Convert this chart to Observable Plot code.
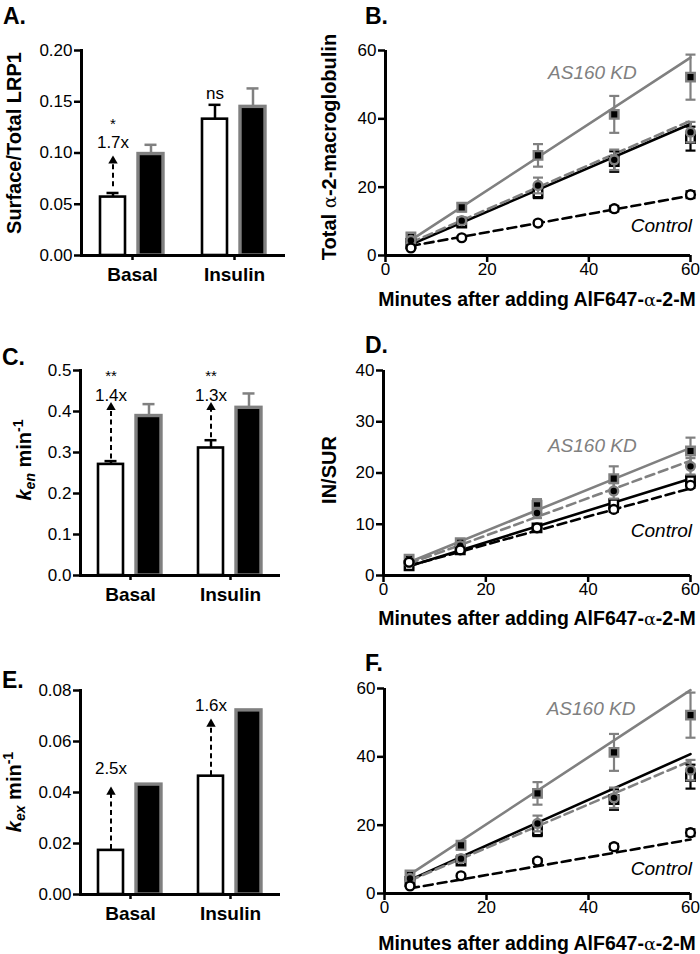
<!DOCTYPE html>
<html><head><meta charset="utf-8">
<script src="https://cdn.jsdelivr.net/npm/d3@7"></script>
<script src="https://cdn.jsdelivr.net/npm/@observablehq/plot@0.6"></script>
<style>
body{margin:0;background:#fff;font-family:'Liberation Sans',Arial,Helvetica,sans-serif;color:#000;}
#fig{position:relative;width:700px;height:954px;overflow:hidden;background:#fff;}
.panel{position:absolute;width:350px;height:318px;}
.lbl{position:absolute;font-weight:bold;font-size:23px;line-height:1;}
.ytitle{position:absolute;font-weight:bold;font-size:20px;line-height:1;white-space:nowrap;transform:translate(-50%,-50%) rotate(-90deg);}
.xtitle{position:absolute;font-weight:bold;font-size:19.5px;line-height:1;white-space:nowrap;transform:translate(-50%,-50%);}
.ytitle sub,.ytitle sup{font-size:0.7em;line-height:0;}
.ytitle sub{vertical-align:-0.3em;}
.ytitle sup{vertical-align:0.55em;}
.alpha{font-weight:normal;font-family:'DejaVu Serif',serif;font-size:0.9em;}
</style></head>
<body>
<div id="fig">
  <div class="panel" id="pA" style="left:0;top:0"></div>
  <div class="panel" id="pB" style="left:350px;top:0"></div>
  <div class="panel" id="pC" style="left:0;top:318px"></div>
  <div class="panel" id="pD" style="left:350px;top:318px"></div>
  <div class="panel" id="pE" style="left:0;top:636px"></div>
  <div class="panel" id="pF" style="left:350px;top:636px"></div>

  <div class="lbl" style="left:3px;top:5px">A.</div>
  <div class="lbl" style="left:365px;top:5px">B.</div>
  <div class="lbl" style="left:2px;top:346px">C.</div>
  <div class="lbl" style="left:365px;top:334px">D.</div>
  <div class="lbl" style="left:2px;top:669px">E.</div>
  <div class="lbl" style="left:365px;top:652px">F.</div>

  <div class="ytitle" style="left:14px;top:143px">Surface/Total LRP1</div>
  <div class="ytitle" style="left:24px;top:460px"><i>k</i><sub><i>en</i></sub> min<sup>-1</sup></div>
  <div class="ytitle" style="left:14px;top:792px"><i>k</i><sub><i>ex</i></sub> min<sup>-1</sup></div>
  <div class="ytitle" style="left:329px;top:147px">Total <span class="alpha">α</span>-2-macroglobulin</div>
  <div class="ytitle" style="left:329px;top:470px">IN/SUR</div>

  <div class="xtitle" style="left:537px;top:300px">Minutes after adding AlF647-<span class="alpha">α</span>-2-M</div>
  <div class="xtitle" style="left:537px;top:619px">Minutes after adding AlF647-<span class="alpha">α</span>-2-M</div>
  <div class="xtitle" style="left:537px;top:944px">Minutes after adding AlF647-<span class="alpha">α</span>-2-M</div>
</div>
<script>
const fontFamily = "'Liberation Sans', Arial, Helvetica, sans-serif";

// ---------- Bar panels (A, C, E) ----------
const groups = ["Basal", "Insulin"];
const conditions = ["Control", "AS160 KD"];

// A: Surface/Total LRP1
const lrpControl = [0.057, 0.133];
const lrpControlErr = [0.004, 0.014];
const lrpKD = [0.099, 0.145];
const lrpKDErr = [0.009, 0.018];
const lrpTicks = [0, 0.05, 0.10, 0.15, 0.20];
const lrpNotes = [
  {group: "Basal", text: "*", y: 0.128},
  {group: "Basal", text: "1.7x", y: 0.110},
  {group: "Insulin", text: "ns", y: 0.158}
];
const lrpArrows = [{group: "Basal", y1: 0.067, y2: 0.0923}];

// C: k_en
const kenControl = [0.271, 0.311];
const kenControlErr = [0.008, 0.019];
const kenKD = [0.389, 0.409];
const kenKDErr = [0.029, 0.035];
const kenTicks = [0, 0.1, 0.2, 0.3, 0.4, 0.5];
const kenNotes = [
  {group: "Basal", text: "**", y: 0.485},
  {group: "Basal", text: "1.4x", y: 0.440},
  {group: "Insulin", text: "**", y: 0.485},
  {group: "Insulin", text: "1.3x", y: 0.440}
];
const kenArrows = [
  {group: "Basal", y1: 0.284, y2: 0.410},
  {group: "Insulin", y1: 0.336, y2: 0.410}
];

// E: k_ex
const kexControl = [0.0173, 0.0464];
const kexKD = [0.0431, 0.0722];
const kexTicks = [0, 0.02, 0.04, 0.06, 0.08];
const kexNotes = [
  {group: "Basal", text: "2.5x", y: 0.0493},
  {group: "Insulin", text: "1.6x", y: 0.0741}
];
const kexArrows = [
  {group: "Basal", y1: 0.0176, y2: 0.0402},
  {group: "Insulin", y1: 0.0466, y2: 0.0669}
];

// ---------- Line panels (B, D, F) ----------
const minutes = [5, 15, 30, 45, 60];
const xTicks = [0, 20, 40, 60];

// B & F: Total alpha-2-macroglobulin
const totalCtrlBasal = [2.2, 5.2, 9.5, 13.7, 17.8];
const totalCtrlBasalErr = [0.3, 0.4, 0.6, 0.8, 1.0];
const totalCtrlIns = [3.5, 9.5, 18.3, 27.5, 34.2];
const totalCtrlInsErr = [0.5, 0.8, 1.5, 3.0, 3.5];
const totalKDBasal = [4.4, 10.2, 20.5, 28.0, 36.1];
const totalKDBasalErr = [0.8, 1.0, 2.3, 3.0, 3.0];
const totalKDIns = [5.4, 14.1, 29.3, 41.3, 52.2];
const totalKDInsErr = [1.0, 1.2, 3.3, 5.4, 6.6];
const totalTicks = [0, 20, 40, 60];

// B fitted lines (endpoints at 5 and 60 min)
const fitMinutes = [5, 60];
const fitBCtrlBasal = [2.8, 17.5];
const fitBCtrlIns = [3.2, 38.5];
const fitBKDBasal = [3.8, 39.4];
const fitBKDIns = [4.5, 57.9];

// D: IN/SUR
const inSurCtrlBasal = [2.6, 5.0, 9.3, 12.9, 17.6];
const inSurCtrlBasalErr = [0.2, 0.3, 0.4, 0.5, 0.5];
const inSurCtrlIns = [1.9, 5.0, 9.3, 14.0, 18.5];
const inSurCtrlInsErr = [0.3, 0.4, 0.6, 0.8, 1.0];
const inSurKDBasal = [2.6, 5.8, 12.2, 16.5, 21.3];
const inSurKDBasalErr = [0.4, 0.5, 1.0, 1.5, 1.6];
const inSurKDIns = [3.2, 6.4, 13.7, 18.9, 24.3];
const inSurKDInsErr = [0.5, 0.7, 1.2, 2.4, 2.6];
const inSurTicks = [0, 10, 20, 30, 40];
const fitDCtrlBasal = [1.9, 17.0];
const fitDCtrlIns = [1.8, 18.9];
const fitDKDBasal = [2.3, 22.4];
const fitDKDIns = [2.6, 24.9];

// F fitted lines
const fitFCtrlBasal = [1.5, 15.8];
const fitFCtrlIns = [4.0, 40.8];
const fitFKDBasal = [3.8, 38.8];
const fitFKDIns = [5.6, 59.5];

// series labels
const kdLabelB = [{text: "AS160 KD", x: 40.7, y: 53.5}];
const ctrlLabelB = [{text: "Control", x: 60.3, y: 8.6}];
const kdLabelD = [{text: "AS160 KD", x: 40.8, y: 25.3}];
const ctrlLabelD = [{text: "Control", x: 60.3, y: 8.7}];
const kdLabelF = [{text: "AS160 KD", x: 40.5, y: 53.9}];
const ctrlLabelF = [{text: "Control", x: 60.3, y: 7.3}];

// ---------- styles ----------
const GRAY = "#808080";
const seriesStyles = [
  {key: "KD Insulin", symbol: "square", fill: "black", stroke: GRAY, line: GRAY, dash: null, r: 4.8},
  {key: "Control Insulin", symbol: "square", fill: "white", stroke: "black", line: "black", dash: null, r: 4.8},
  {key: "KD Basal", symbol: "circle", fill: "black", stroke: GRAY, line: GRAY, dash: "9,5", r: 4.4},
  {key: "Control Basal", symbol: "circle", fill: "white", stroke: "black", line: "black", dash: "9,5", r: 4.4}
];
const capSymbol = {draw(ctx, size) { const r = Math.sqrt(size / Math.PI); ctx.moveTo(-r, 0); ctx.lineTo(r, 0); }};

function barPanel(id, o) {
  const rows = [];
  groups.forEach((g, i) => {
    rows.push({group: g, cond: conditions[0], value: o.ctrl[i], err: o.ctrlErr ? o.ctrlErr[i] : null});
    rows.push({group: g, cond: conditions[1], value: o.kd[i], err: o.kdErr ? o.kdErr[i] : null});
  });
  const ctrlRows = rows.filter(d => d.cond === conditions[0]);
  const kdRows = rows.filter(d => d.cond === conditions[1]);
  const errMarks = (sub, color) => {
    const e = sub.filter(d => d.err != null);
    return [
      Plot.ruleX(e, {fx: "group", x: "cond", y1: "value", y2: d => d.value + d.err, stroke: color, strokeWidth: 2.5}),
      Plot.tickY(e, {fx: "group", x: "cond", y: d => d.value + d.err, stroke: color, strokeWidth: 2.5, insetLeft: 6.5, insetRight: 6.5})
    ];
  };
  const arrowX = () => conditions[0];
  const plot = Plot.plot({
    width: 350, height: 318,
    marginTop: o.m[0], marginRight: o.m[1], marginBottom: o.m[2], marginLeft: o.m[3],
    style: {fontFamily, color: "black", background: "transparent", overflow: "visible"},
    fx: {domain: groups, padding: 0},
    x: {domain: conditions, paddingInner: 0.33, paddingOuter: 0.48, axis: null},
    y: {domain: o.domain, axis: null},
    marks: [
      ...errMarks(ctrlRows, "black"),
      ...errMarks(kdRows, GRAY),
      Plot.barY(ctrlRows, {fx: "group", x: "cond", y: "value", fill: "white", stroke: "black", strokeWidth: 2.6}),
      Plot.barY(kdRows, {fx: "group", x: "cond", y: "value", fill: "black", stroke: GRAY, strokeWidth: 3.4}),
      Plot.ruleX(o.arrows, {fx: "group", x: arrowX, y1: "y1", y2: "y2", stroke: "black", strokeWidth: 2, strokeDasharray: "5,3.5"}),
      Plot.dot(o.arrows, {fx: "group", x: arrowX, y: "y2", symbol: "triangle", r: 3.5, fill: "black", stroke: "none"}),
      Plot.text(o.notes, {fx: "group", x: arrowX, y: "y", text: "text", fontSize: d => d.text.startsWith("*") ? 15 : 17, fill: "black"}),
      Plot.ruleY([0], {stroke: "black", strokeWidth: 3}),
      Plot.frame({anchor: "left", facetAnchor: "left", stroke: "black", strokeWidth: 3}),
      Plot.axisY({ticks: o.ticks, tickFormat: o.fmt, tickSize: 7, tickPadding: 2, fontSize: 17, strokeWidth: 2.5, label: null}),
      Plot.axisFx({anchor: "bottom", tickSize: 5, tickPadding: 7, fontSize: 19, fontWeight: "bold", strokeWidth: 2.5, label: null})
    ]
  });
  document.getElementById(id).appendChild(plot);
}

function linePanel(id, o) {
  const marks = [
    Plot.ruleY([0], {stroke: "black", strokeWidth: 3}),
    Plot.ruleX([0], {stroke: "black", strokeWidth: 3}),
    Plot.axisX({ticks: xTicks, tickSize: 7, tickPadding: 0, fontSize: 17, strokeWidth: 2.5, label: null}),
    Plot.axisY({ticks: o.ticks, tickSize: 7, tickPadding: 2, fontSize: 17, strokeWidth: 2.5, label: null})
  ];
  // fitted lines
  for (const s of seriesStyles) {
    const f = o.fits[s.key];
    const rows = fitMinutes.map((m, i) => ({x: m, y: f[i]}));
    marks.push(Plot.line(rows, {x: "x", y: "y", stroke: s.line, strokeWidth: 2.6, strokeDasharray: s.dash}));
  }
  // points with error bars
  for (const s of seriesStyles) {
    const [vals, errs] = o.series[s.key];
    const rows = minutes.map((m, i) => ({x: m, y: vals[i], err: errs[i]}));
    const ec = s.stroke;
    marks.push(
      Plot.ruleX(rows, {x: "x", y1: d => d.y - d.err, y2: d => d.y + d.err, stroke: ec, strokeWidth: 2.2}),
      Plot.dot(rows, {x: "x", y: d => d.y + d.err, symbol: capSymbol, r: 5, fill: "none", stroke: ec, strokeWidth: 2.2}),
      Plot.dot(rows, {x: "x", y: d => d.y - d.err, symbol: capSymbol, r: 5, fill: "none", stroke: ec, strokeWidth: 2.2}),
      Plot.dot(rows, {x: "x", y: "y", symbol: s.symbol, r: s.r, fill: s.fill, stroke: s.stroke, strokeWidth: 2.4})
    );
  }
  marks.push(
    Plot.text(o.kdLabel, {x: "x", y: "y", text: "text", fontSize: 19, fontStyle: "italic", fill: GRAY}),
    Plot.text(o.ctrlLabel, {x: "x", y: "y", text: "text", fontSize: 19, fontStyle: "italic", fill: "black", textAnchor: "end"})
  );
  const plot = Plot.plot({
    width: 350, height: 318,
    marginTop: o.m[0], marginRight: o.m[1], marginBottom: o.m[2], marginLeft: o.m[3],
    style: {fontFamily, color: "black", background: "transparent", overflow: "visible"},
    x: {domain: [0, 60], axis: null},
    y: {domain: o.domain, axis: null},
    marks
  });
  document.getElementById(id).appendChild(plot);
}

barPanel("pA", {ctrl: lrpControl, ctrlErr: lrpControlErr, kd: lrpKD, kdErr: lrpKDErr,
  domain: [0, 0.2], ticks: lrpTicks, fmt: d3.format(".2f"), notes: lrpNotes, arrows: lrpArrows, m: [50, 65, 63, 80]});
barPanel("pC", {ctrl: kenControl, ctrlErr: kenControlErr, kd: kenKD, kdErr: kenKDErr,
  domain: [0, 0.5], ticks: kenTicks, fmt: d3.format(".1f"), notes: kenNotes, arrows: kenArrows, m: [52, 70, 61, 79]});
barPanel("pE", {ctrl: kexControl, ctrlErr: null, kd: kexKD, kdErr: null,
  domain: [0, 0.08], ticks: kexTicks, fmt: d3.format(".2f"), notes: kexNotes, arrows: kexArrows, m: [54, 70, 60, 79]});

const totalSeries = {
  "KD Insulin": [totalKDIns, totalKDInsErr],
  "Control Insulin": [totalCtrlIns, totalCtrlInsErr],
  "KD Basal": [totalKDBasal, totalKDBasalErr],
  "Control Basal": [totalCtrlBasal, totalCtrlBasalErr]
};
linePanel("pB", {series: totalSeries,
  fits: {"KD Insulin": fitBKDIns, "Control Insulin": fitBCtrlIns, "KD Basal": fitBKDBasal, "Control Basal": fitBCtrlBasal},
  kdLabel: kdLabelB, ctrlLabel: ctrlLabelB, domain: [0, 60], ticks: totalTicks, m: [50, 10, 63, 35]});
linePanel("pD", {series: {
    "KD Insulin": [inSurKDIns, inSurKDInsErr],
    "Control Insulin": [inSurCtrlIns, inSurCtrlInsErr],
    "KD Basal": [inSurKDBasal, inSurKDBasalErr],
    "Control Basal": [inSurCtrlBasal, inSurCtrlBasalErr]
  },
  fits: {"KD Insulin": fitDKDIns, "Control Insulin": fitDCtrlIns, "KD Basal": fitDKDBasal, "Control Basal": fitDCtrlBasal},
  kdLabel: kdLabelD, ctrlLabel: ctrlLabelD, domain: [0, 40], ticks: inSurTicks, m: [52, 10, 61, 33]});
linePanel("pF", {series: totalSeries,
  fits: {"KD Insulin": fitFKDIns, "Control Insulin": fitFCtrlIns, "KD Basal": fitFKDBasal, "Control Basal": fitFCtrlBasal},
  kdLabel: kdLabelF, ctrlLabel: ctrlLabelF, domain: [0, 60], ticks: totalTicks, m: [52, 10, 61, 34]});
</script>
</body></html>
